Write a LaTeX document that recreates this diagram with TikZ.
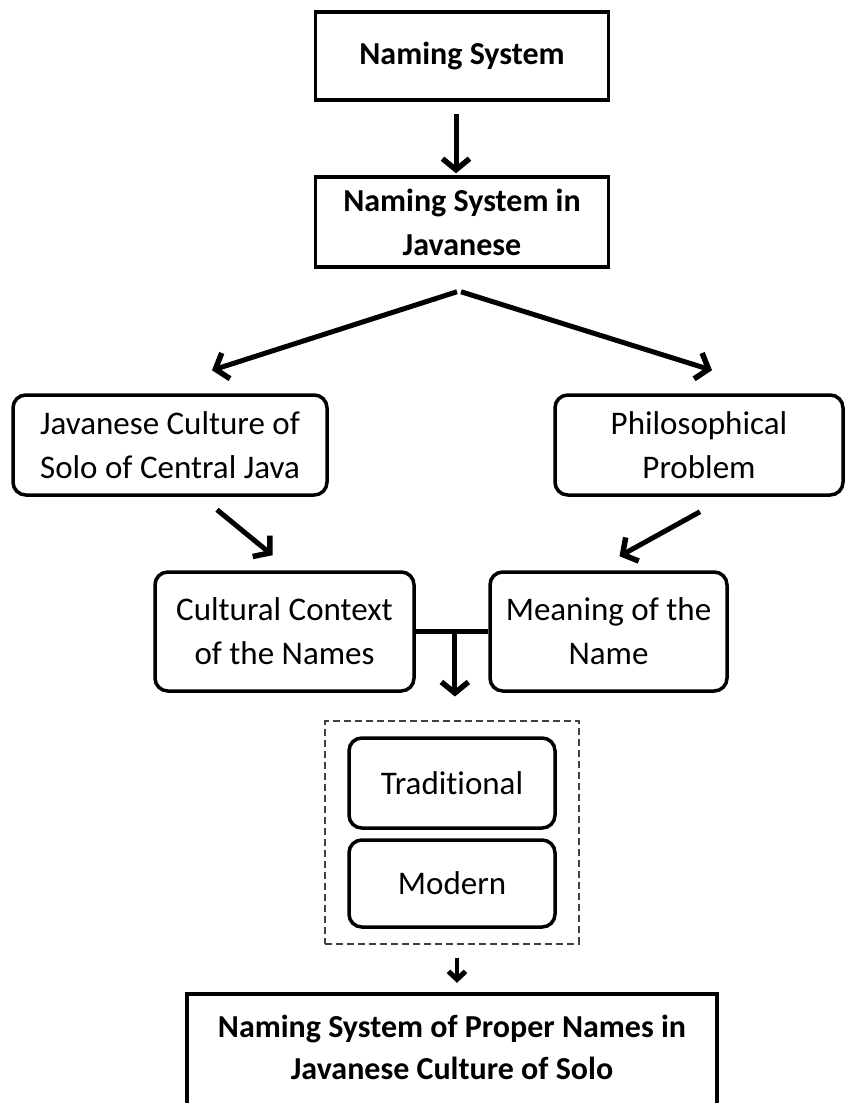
\documentclass[tikz,border=0pt]{standalone}
\usepackage{fontspec}
\setmainfont{Carlito}[Ligatures=NoCommon]
\usetikzlibrary{arrows.meta,positioning,fit}
\tikzstyle{plain} = [draw,line width=3.5pt,rectangle,inner sep=0,align=center,font=\fontsize{32}{44}\selectfont\bfseries]
\tikzstyle{soft} = [draw,line width=3.5pt,rectangle,rounded corners=.45cm,inner sep=0,align=center,font=\fontsize{33}{44}\selectfont]
\tikzstyle{flow} = [line width=5pt,-{Straight Barb[length=11pt,width=27pt,line width=5.5pt]}]
\tikzstyle{flowsmall} = [line width=4pt,-{Straight Barb[length=8pt,width=17pt,line width=5pt]}]
\tikzstyle{bar} = [line width=5pt]
\tikzstyle{dashframe} = [draw=black!75,line width=2pt,dash pattern=on 7pt off 4pt,inner xsep=22pt,inner ysep=15pt]

\begin{document}
\begin{tikzpicture}[x=1pt,y=-1pt]
      \useasboundingbox (0,0) rectangle (846,1103);
      \node[plain,minimum width=293pt,minimum height=88pt] (sys) at (462,56) {Naming System};
      \node[plain,minimum width=293pt,minimum height=90pt] (jav) at (462,222) {Naming System in\\Javanese};
      \node[soft,minimum width=314pt,minimum height=100pt] (culture) at (170,445) {Javanese Culture of\\Solo of Central Java};
      \node[soft,minimum width=288pt,minimum height=100pt] (philo) at (699,445) {Philosophical\\Problem};
      \node[soft,minimum width=259pt,minimum height=119pt] (context) at (284.5,631.5) {Cultural Context\\of the Names};
      \node[soft,minimum width=237pt,minimum height=119pt] (meaning) at (608.5,631.5) {Meaning of the\\Name};
      \node[soft,minimum width=206pt,minimum height=90pt] (trad) at (452,783) {Traditional};
      \node[soft,minimum width=206pt,minimum height=87pt] (modern) at (452,883.5) {Modern};
      \node[dashframe,fit=(trad)(modern)] (choice) {};
      \node[align=center,font=\fontsize{32}{42}\selectfont\bfseries,minimum width=530pt,minimum height=106pt] (final) at (452,1047) {Naming System of Proper Names in\\Javanese Culture of Solo};
      \draw[line width=3.5pt] ([yshift=-12pt]final.south west) |- (final.north east) -- ([yshift=-12pt]final.south east);
      % connectors
      \draw[flow,shorten <=12pt,shorten >=2pt] ([xshift=-6pt]sys.south) -- ([xshift=-6pt]jav.north);
      \draw[flow] ([xshift=-5pt,yshift=-23pt]jav.south) -- ([xshift=42pt,yshift=23pt]culture.north);
      \draw[flow] ([xshift=-1pt,yshift=-23pt]jav.south) -- ([xshift=13pt,yshift=23pt]philo.north);
      \draw[flow] ([xshift=47pt,yshift=-13pt]culture.south) -- ([xshift=-12pt,yshift=15pt]context.north);
      \draw[flow] ([xshift=1pt,yshift=-15pt]philo.south) -- ([xshift=11pt,yshift=14pt]meaning.north);
      \draw[bar] (context.east) -- coordinate[pos=0.54] (tee) (meaning.west);
      \draw[flow] (tee) -- ++(0,65);
      \draw[flowsmall,shorten <=13pt,shorten >=11pt] ([xshift=5pt]choice.south) -- ([xshift=5pt]final.north);
    \end{tikzpicture}
\end{document}
